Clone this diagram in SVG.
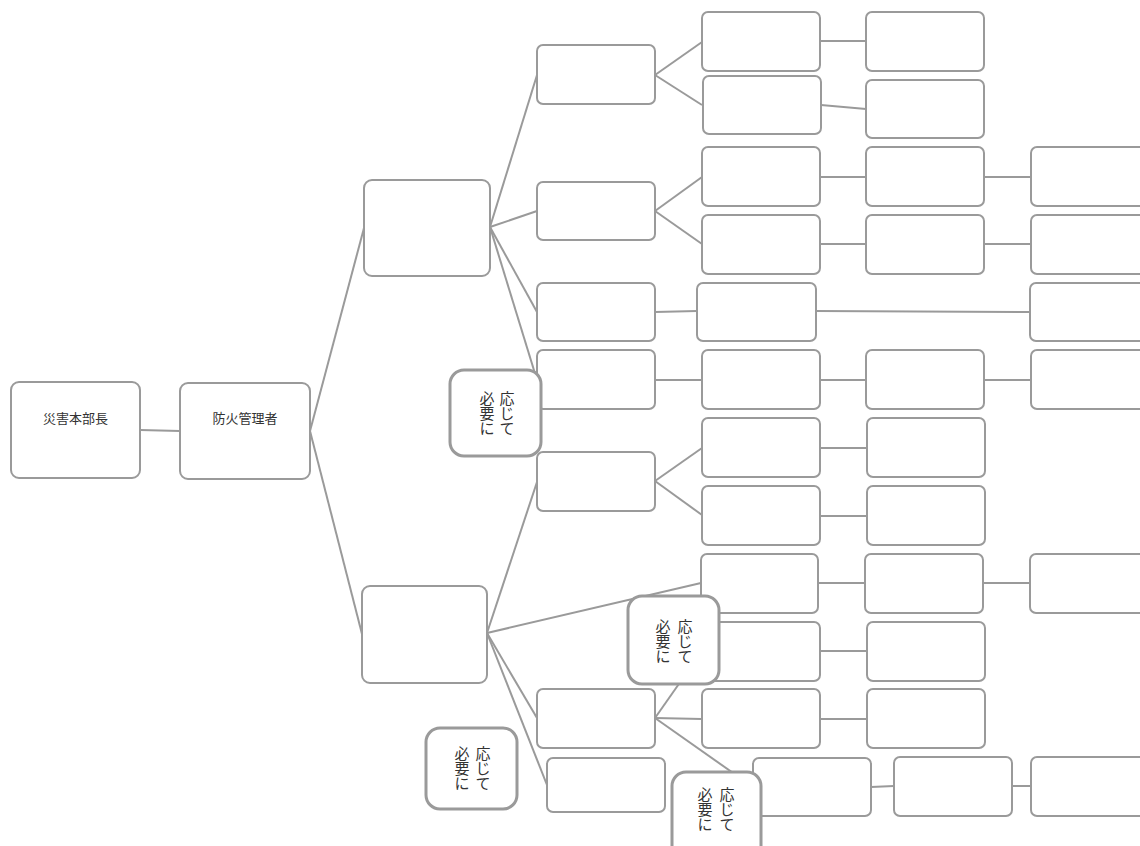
<svg xmlns="http://www.w3.org/2000/svg" width="1140" height="846" viewBox="0 0 1140 846">
<style>
.bg{fill:#ffffff}
.box{fill:#ffffff;stroke:#9a9a9a;stroke-width:2}
.note{fill:#ffffff;stroke:#9a9a9a;stroke-width:3}
.ln{stroke:#9a9a9a;stroke-width:2;fill:none}
.lbl{font-family:"Noto Sans CJK JP","Noto Sans",sans-serif;font-size:13px;fill:#333333;text-anchor:middle}
.vt{font-family:"Noto Sans CJK JP","Noto Sans",sans-serif;font-size:15px;fill:#333333;text-anchor:middle}
</style>
<rect class="bg" x="0" y="0" width="1140" height="846"/>
<g id="connectors">
<line class="ln" x1="140" y1="430" x2="180" y2="431"/>
<line class="ln" x1="310" y1="431" x2="364" y2="228"/>
<line class="ln" x1="310" y1="431" x2="362" y2="634"/>
<line class="ln" x1="490" y1="227" x2="537" y2="75"/>
<line class="ln" x1="490" y1="227" x2="537" y2="211"/>
<line class="ln" x1="490" y1="227" x2="537" y2="312"/>
<line class="ln" x1="490" y1="227" x2="537" y2="380"/>
<line class="ln" x1="655" y1="75" x2="702" y2="42"/>
<line class="ln" x1="655" y1="75" x2="702" y2="105"/>
<line class="ln" x1="820" y1="41" x2="866" y2="41"/>
<line class="ln" x1="821" y1="105" x2="866" y2="109"/>
<line class="ln" x1="655" y1="211" x2="702" y2="177"/>
<line class="ln" x1="655" y1="211" x2="702" y2="244"/>
<line class="ln" x1="820" y1="177" x2="866" y2="177"/>
<line class="ln" x1="984" y1="177" x2="1031" y2="177"/>
<line class="ln" x1="820" y1="244" x2="866" y2="244"/>
<line class="ln" x1="984" y1="244" x2="1031" y2="244"/>
<line class="ln" x1="655" y1="312" x2="697" y2="311"/>
<line class="ln" x1="816" y1="311" x2="1030" y2="312"/>
<line class="ln" x1="655" y1="380" x2="702" y2="380"/>
<line class="ln" x1="820" y1="380" x2="866" y2="380"/>
<line class="ln" x1="984" y1="380" x2="1031" y2="380"/>
<line class="ln" x1="487" y1="633" x2="537" y2="482"/>
<line class="ln" x1="655" y1="481" x2="702" y2="448"/>
<line class="ln" x1="655" y1="481" x2="702" y2="515"/>
<line class="ln" x1="820" y1="448" x2="867" y2="448"/>
<line class="ln" x1="820" y1="516" x2="867" y2="516"/>
<line class="ln" x1="487" y1="633" x2="701" y2="583"/>
<line class="ln" x1="818" y1="583" x2="865" y2="583"/>
<line class="ln" x1="983" y1="583" x2="1030" y2="583"/>
<line class="ln" x1="487" y1="633" x2="537" y2="718"/>
<line class="ln" x1="487" y1="633" x2="547" y2="785"/>
<line class="ln" x1="655" y1="718" x2="702" y2="651"/>
<line class="ln" x1="655" y1="718" x2="702" y2="719"/>
<line class="ln" x1="655" y1="718" x2="753" y2="787"/>
<line class="ln" x1="820" y1="651" x2="867" y2="651"/>
<line class="ln" x1="820" y1="719" x2="867" y2="719"/>
<line class="ln" x1="871" y1="787" x2="894" y2="786"/>
<line class="ln" x1="1012" y1="786" x2="1031" y2="786"/>
</g>
<g id="n-saigai"><rect class="box" x="11" y="382" width="129" height="96" rx="8"/><text class="lbl" x="75.5" y="423">災害本部長</text></g>
<g id="n-bouka"><rect class="box" x="180" y="383" width="130" height="96" rx="8"/><text class="lbl" x="245" y="423">防火管理者</text></g>
<g id="n-a"><rect class="box" x="364" y="180" width="126" height="96" rx="8"/></g>
<g id="n-f"><rect class="box" x="362" y="586" width="125" height="97" rx="8"/></g>
<g id="n-b1"><rect class="box" x="537" y="45" width="118" height="59" rx="6"/></g>
<g id="n-b2"><rect class="box" x="537" y="182" width="118" height="58" rx="6"/></g>
<g id="n-b3"><rect class="box" x="537" y="283" width="118" height="58" rx="6"/></g>
<g id="n-b4"><rect class="box" x="537" y="350" width="118" height="59" rx="6"/></g>
<g id="n-b5"><rect class="box" x="537" y="452" width="118" height="59" rx="6"/></g>
<g id="n-b6"><rect class="box" x="537" y="689" width="118" height="59" rx="6"/></g>
<g id="n-b7"><rect class="box" x="547" y="758" width="118" height="54" rx="6"/></g>
<g id="n-c1"><rect class="box" x="702" y="12" width="118" height="59" rx="6"/></g>
<g id="n-c2"><rect class="box" x="703" y="76" width="118" height="58" rx="6"/></g>
<g id="n-c3"><rect class="box" x="702" y="147" width="118" height="59" rx="6"/></g>
<g id="n-c4"><rect class="box" x="702" y="215" width="118" height="59" rx="6"/></g>
<g id="n-c5"><rect class="box" x="697" y="283" width="119" height="58" rx="6"/></g>
<g id="n-c6"><rect class="box" x="702" y="350" width="118" height="59" rx="6"/></g>
<g id="n-c7"><rect class="box" x="702" y="418" width="118" height="59" rx="6"/></g>
<g id="n-c8"><rect class="box" x="702" y="486" width="118" height="59" rx="6"/></g>
<g id="n-c9"><rect class="box" x="701" y="554" width="117" height="59" rx="6"/></g>
<g id="n-c10"><rect class="box" x="702" y="622" width="118" height="59" rx="6"/></g>
<g id="n-c11"><rect class="box" x="702" y="689" width="118" height="59" rx="6"/></g>
<g id="n-c12"><rect class="box" x="753" y="758" width="118" height="58" rx="6"/></g>
<g id="n-d1"><rect class="box" x="866" y="12" width="118" height="59" rx="6"/></g>
<g id="n-d2"><rect class="box" x="866" y="80" width="118" height="58" rx="6"/></g>
<g id="n-d3"><rect class="box" x="866" y="147" width="118" height="59" rx="6"/></g>
<g id="n-d4"><rect class="box" x="866" y="215" width="118" height="59" rx="6"/></g>
<g id="n-d6"><rect class="box" x="866" y="350" width="118" height="59" rx="6"/></g>
<g id="n-d7"><rect class="box" x="867" y="418" width="118" height="59" rx="6"/></g>
<g id="n-d8"><rect class="box" x="867" y="486" width="118" height="59" rx="6"/></g>
<g id="n-d9"><rect class="box" x="865" y="554" width="118" height="59" rx="6"/></g>
<g id="n-d10"><rect class="box" x="867" y="622" width="118" height="59" rx="6"/></g>
<g id="n-d11"><rect class="box" x="867" y="689" width="118" height="59" rx="6"/></g>
<g id="n-d12"><rect class="box" x="894" y="757" width="118" height="59" rx="6"/></g>
<g id="n-e3"><rect class="box" x="1031" y="147" width="118" height="59" rx="6"/></g>
<g id="n-e4"><rect class="box" x="1031" y="215" width="118" height="59" rx="6"/></g>
<g id="n-e5"><rect class="box" x="1030" y="283" width="118" height="58" rx="6"/></g>
<g id="n-e6"><rect class="box" x="1031" y="350" width="118" height="59" rx="6"/></g>
<g id="n-e9"><rect class="box" x="1030" y="554" width="118" height="59" rx="6"/></g>
<g id="n-e12"><rect class="box" x="1031" y="757" width="118" height="59" rx="6"/></g>
<g id="note1"><rect class="note" x="450" y="370" width="91" height="86" rx="14"/>
<text class="vt"><tspan x="507" y="404">応</tspan><tspan x="507" y="419">じ</tspan><tspan x="507" y="434">て</tspan></text>
<text class="vt"><tspan x="487" y="404">必</tspan><tspan x="487" y="419">要</tspan><tspan x="487" y="434">に</tspan></text></g>
<g id="note2"><rect class="note" x="628" y="596" width="91" height="88" rx="14"/>
<text class="vt"><tspan x="685" y="632">応</tspan><tspan x="685" y="647">じ</tspan><tspan x="685" y="662">て</tspan></text>
<text class="vt"><tspan x="663" y="632">必</tspan><tspan x="663" y="647">要</tspan><tspan x="663" y="662">に</tspan></text></g>
<g id="note3"><rect class="note" x="426" y="728" width="91" height="81" rx="14"/>
<text class="vt"><tspan x="483" y="759">応</tspan><tspan x="483" y="774">じ</tspan><tspan x="483" y="789">て</tspan></text>
<text class="vt"><tspan x="462" y="759">必</tspan><tspan x="462" y="774">要</tspan><tspan x="462" y="789">に</tspan></text></g>
<g id="note4"><rect class="note" x="672" y="772" width="89" height="88" rx="14"/>
<text class="vt"><tspan x="727" y="800">応</tspan><tspan x="727" y="815">じ</tspan><tspan x="727" y="830">て</tspan></text>
<text class="vt"><tspan x="705" y="800">必</tspan><tspan x="705" y="815">要</tspan><tspan x="705" y="830">に</tspan></text></g>
</svg>
